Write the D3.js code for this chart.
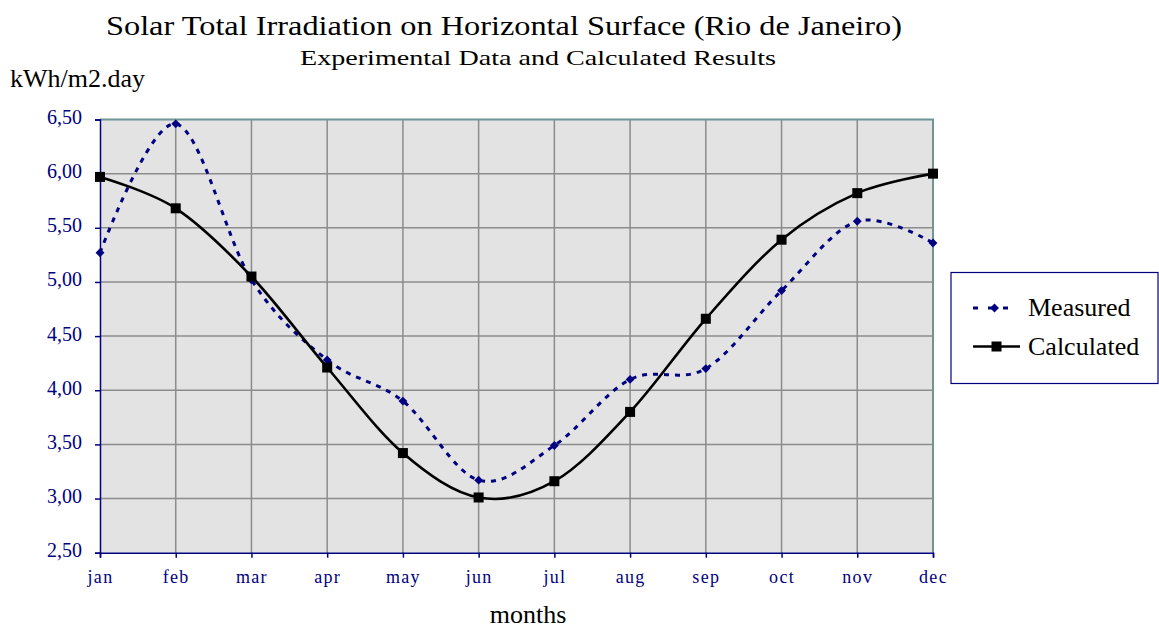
<!DOCTYPE html>
<html>
<head>
<meta charset="utf-8">
<script src="https://cdn.jsdelivr.net/npm/d3@7"></script>
<style>
  html, body { margin: 0; padding: 0; background: #fff; }
  svg { display: block; font-family: "Liberation Serif", "Times New Roman", serif; }
</style>
</head>
<body>
<svg id="chart" width="1159" height="630"></svg>
<script>
// Monthly solar total irradiation, kWh/m2.day
const months = ["jan", "feb", "mar", "apr", "may", "jun", "jul", "aug", "sep", "oct", "nov", "dec"];
const measured = [5.27, 6.46, 5.02, 4.28, 3.90, 3.17, 3.49, 4.10, 4.20, 4.92, 5.56, 5.36];
const calculated = [5.97, 5.68, 5.05, 4.21, 3.42, 3.01, 3.16, 3.80, 4.66, 5.39, 5.82, 6.00];
const yTicks = [2.5, 3.0, 3.5, 4.0, 4.5, 5.0, 5.5, 6.0, 6.5];
const seriesNames = ["Measured", "Calculated"];

const svg = d3.select("#chart");
const plot = { left: 100, right: 933, top: 119.5, bottom: 552.7 };

const x = d3.scalePoint().domain(months).range([plot.left, plot.right]);
const y = d3.scaleLinear().domain([2.5, 6.5]).range([plot.bottom, plot.top]);

const navy = "#000080";
const fmt = v => d3.format(".2f")(v).replace(".", ",");

// plot background
svg.append("rect")
  .attr("x", plot.left).attr("y", plot.top)
  .attr("width", plot.right - plot.left).attr("height", plot.bottom - plot.top)
  .attr("fill", "#e3e3e3");

// gridlines
const grid = svg.append("g").attr("stroke", "#8c8c8c").attr("stroke-width", 1.5);
grid.selectAll(".hg").data(yTicks.slice(1, -1)).join("line")
  .attr("x1", plot.left).attr("x2", plot.right)
  .attr("y1", d => y(d)).attr("y2", d => y(d));
grid.selectAll(".vg").data(months.slice(1, -1)).join("line")
  .attr("y1", plot.top).attr("y2", plot.bottom)
  .attr("x1", d => x(d)).attr("x2", d => x(d));

// top / right frame
svg.append("path")
  .attr("d", `M${plot.left},${plot.top}H${plot.right}V${plot.bottom}`)
  .attr("fill", "none").attr("stroke", "#6e9696").attr("stroke-width", 2);

// y axis
const yAxis = svg.append("g")
  .attr("transform", `translate(${plot.left},0)`)
  .call(d3.axisLeft(y).tickValues(yTicks).tickFormat(fmt).tickSizeOuter(0).tickSize(5).tickPadding(13));
yAxis.select(".domain").attr("stroke", navy).attr("stroke-width", 1.5);
yAxis.selectAll(".tick line").attr("stroke", navy).attr("stroke-width", 1.5);
yAxis.selectAll(".tick text")
  .attr("fill", navy).attr("font-size", 20).attr("font-family", "Liberation Serif, serif")
  .attr("dy", "0.2em");

// x axis
const xAxis = svg.append("g")
  .attr("transform", `translate(0,${plot.bottom})`)
  .call(d3.axisBottom(x).tickSizeOuter(0).tickSize(5).tickPadding(13));
xAxis.select(".domain").attr("stroke", navy).attr("stroke-width", 1.5);
xAxis.selectAll(".tick line").attr("stroke", navy).attr("stroke-width", 1.5);
xAxis.selectAll(".tick text")
  .attr("fill", navy).attr("font-size", 18).attr("font-family", "Liberation Serif, serif")
  .attr("letter-spacing", 1.3);

// series lines
const line = d3.line()
  .x((d, i) => x(months[i]))
  .y(d => y(d))
  .curve(d3.curveCardinal.tension(0));

svg.append("path").datum(measured)
  .attr("d", line).attr("fill", "none")
  .attr("stroke", navy).attr("stroke-width", 3)
  .attr("stroke-dasharray", "5,6");

svg.append("path").datum(calculated)
  .attr("d", line).attr("fill", "none")
  .attr("stroke", "#000").attr("stroke-width", 2.6);

// markers
const diamond = d3.symbol().type(d3.symbolDiamond2).size(50);
svg.append("g").selectAll("path").data(measured).join("path")
  .attr("d", diamond)
  .attr("transform", (d, i) => `translate(${x(months[i])},${y(d)})`)
  .attr("fill", navy);

svg.append("g").selectAll("rect").data(calculated).join("rect")
  .attr("x", (d, i) => x(months[i]) - 5)
  .attr("y", d => y(d) - 5)
  .attr("width", 10).attr("height", 10)
  .attr("fill", "#000");

// titles
svg.append("text")
  .attr("x", 504).attr("y", 35).attr("text-anchor", "middle")
  .attr("font-size", 28).attr("textLength", 796).attr("lengthAdjust", "spacingAndGlyphs")
  .text("Solar Total Irradiation on Horizontal Surface (Rio de Janeiro)");

svg.append("text")
  .attr("x", 538).attr("y", 65).attr("text-anchor", "middle")
  .attr("font-size", 22).attr("textLength", 476).attr("lengthAdjust", "spacingAndGlyphs")
  .text("Experimental Data and Calculated Results");

svg.append("text")
  .attr("x", 10).attr("y", 87)
  .attr("font-size", 26)
  .text("kWh/m2.day");

svg.append("text")
  .attr("x", 528).attr("y", 623).attr("text-anchor", "middle")
  .attr("font-size", 26)
  .text("months");

// legend
const legend = svg.append("g");
legend.append("rect")
  .attr("x", 951).attr("y", 272.5).attr("width", 207).attr("height", 111)
  .attr("fill", "#fff").attr("stroke", navy).attr("stroke-width", 1.2);

const legY = [308, 346.5];
legend.append("line")
  .attr("x1", 973).attr("x2", 1016).attr("y1", legY[0]).attr("y2", legY[0])
  .attr("stroke", navy).attr("stroke-width", 3).attr("stroke-dasharray", "5,10");
legend.append("path")
  .attr("d", diamond)
  .attr("transform", `translate(${994.5},${legY[0]})`)
  .attr("fill", navy);
legend.append("line")
  .attr("x1", 973).attr("x2", 1020).attr("y1", legY[1]).attr("y2", legY[1])
  .attr("stroke", "#000").attr("stroke-width", 2.6);
legend.append("rect")
  .attr("x", 996.5 - 5).attr("y", legY[1] - 5).attr("width", 10).attr("height", 10)
  .attr("fill", "#000");

legend.selectAll("text.lbl").data(seriesNames).join("text")
  .attr("class", "lbl")
  .attr("x", 1028).attr("y", (d, i) => legY[i] + 8)
  .attr("font-size", 26)
  .text(d => d);
</script>
</body>
</html>
